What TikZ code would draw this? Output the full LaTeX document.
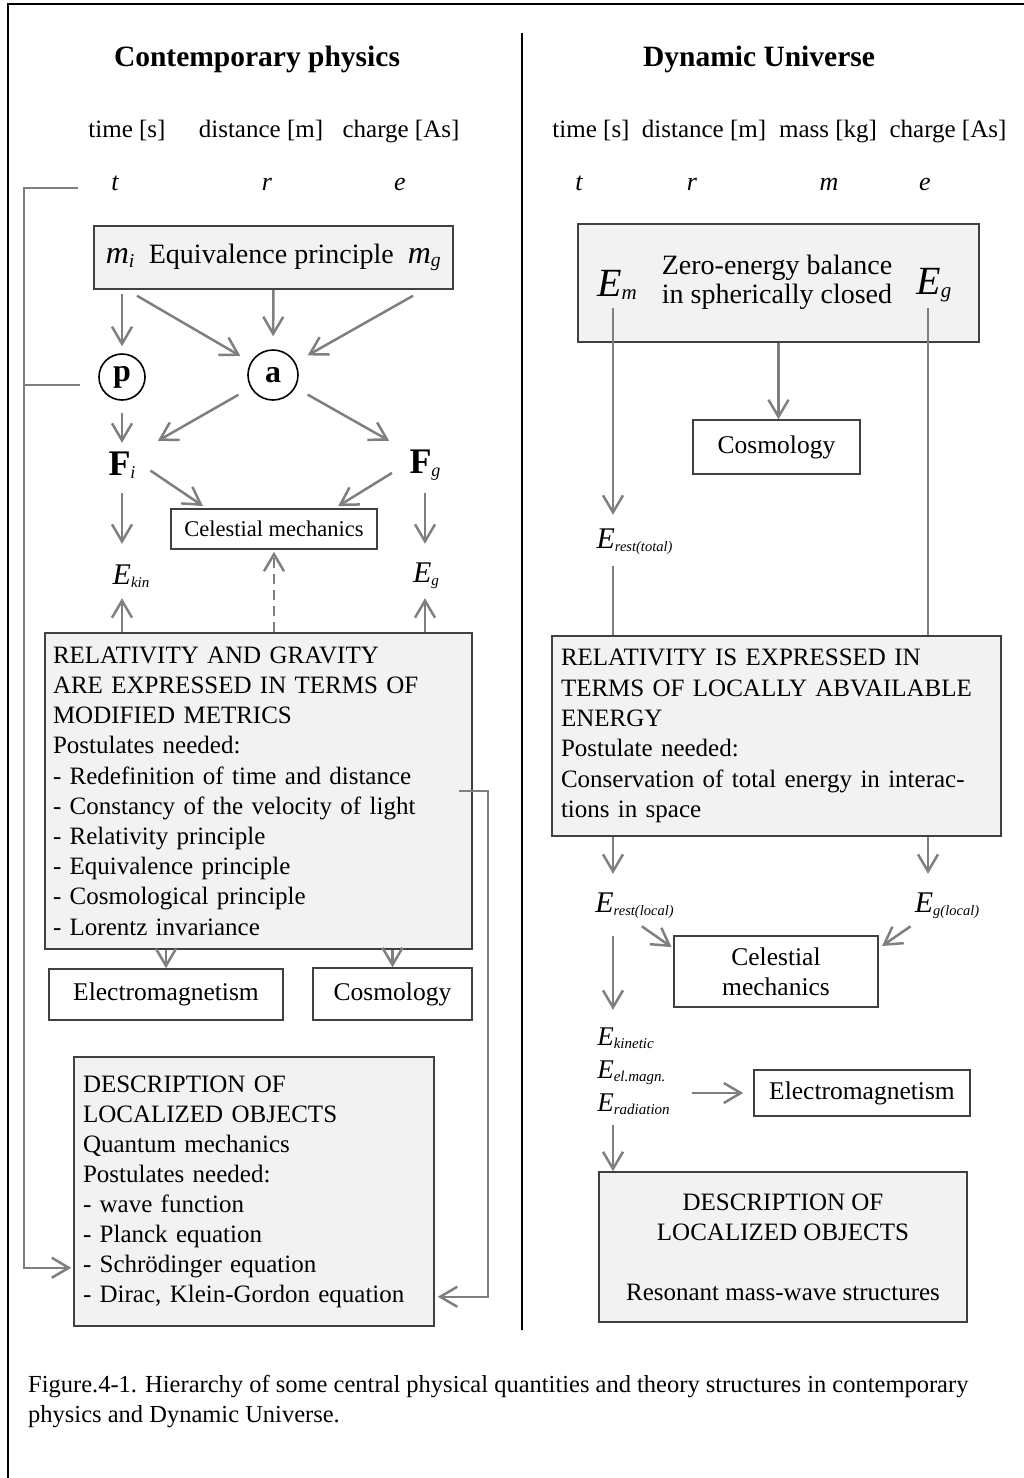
\documentclass[tikz,border=0pt]{standalone}
\usepackage{fontspec}
\setmainfont{Liberation Serif}
\usetikzlibrary{arrows.meta}
\definecolor{arrgray}{HTML}{7F7F7F}
\definecolor{boxfill}{HTML}{F2F2F2}
\definecolor{boxline}{HTML}{404040}
\newcommand{\fsz}[1]{\fontsize{#1}{#1}\selectfont}
\newcommand{\Esub}[3]{{\fsz{#1}\textit{E}}{\fsz{#2}\raisebox{-3pt}{\textit{#3}}}}
\begin{document}
\begin{tikzpicture}[
  x=1pt, y=-1pt,
  arr/.style={draw=arrgray, line width=2.5pt, -{Straight Barb[length=17pt,width=20pt]}},
  conn/.style={draw=arrgray, line width=2.5pt},
  greybox/.style={draw=boxline, fill=boxfill, line width=1.5pt, inner sep=0pt},
  whitebox/.style={draw=boxline, fill=white, line width=1.5pt, inner sep=0pt, font=\fsz{25.5}},
  lbl/.style={inner sep=0pt},
  head/.style={inner sep=0pt, anchor=base, font=\fsz{25}},
  var/.style={inner sep=0pt, anchor=base, font=\fsz{26}\itshape},
  circ/.style={circle, draw, line width=1.6pt, inner sep=0pt, font=\fsz{32}\bfseries},
]
\useasboundingbox (0,0) rectangle (1024,1478);
\draw[line width=1.5pt] (8,1478) -- (8,4) -- (1024,4);
\draw[line width=1.5pt] (522,33) -- (522,1330);

% Contemporary physics
\node[lbl, anchor=base, font=\fsz{29.5}\bfseries] (cptitle) at (257,66) {Contemporary physics};
\node[head] (ctime) at (127,137) {time [s]};
\node[head] (cdist) at (261,137) {distance [m]};
\node[head] (ccharge) at (401,137) {charge [As]};
\node[var] (ct) at (115,190) {t};
\node[var] (cr) at (267,190) {r};
\node[var] (ce) at (400,190) {e};

\node[greybox, minimum width=359pt, minimum height=63pt, font=\fsz{28}] (eqp) at (273.5,257.5)
  {{\fsz{32}\textit{m}}\textsubscript{\textit{i}}\ \ Equivalence principle\ \ {\fsz{32}\textit{m}}\textsubscript{\textit{g}}};
\node[circ, minimum size=46pt] (p) at (122,377) {p};
\node[circ, minimum size=50pt] (a) at (273,375) {a};
\node[lbl, minimum width=40pt, minimum height=30pt] (Fi) at (122,465) {{\fsz{36}\bfseries F}{\fsz{18}\raisebox{-3pt}{\textit{i}}}};
\node[lbl, minimum width=40pt, minimum height=30pt] (Fg) at (425,465) {{\fsz{36}\bfseries F}{\fsz{18}\raisebox{-3pt}{\textit{g}}}};
\node[whitebox, font=\fsz{22.5}, minimum width=206pt, minimum height=40pt] (celL) at (274,529) {Celestial mechanics};
\node[lbl, minimum width=46pt, minimum height=30pt] (Ekin) at (131,576) {\Esub{30}{15}{kin}};
\node[lbl, minimum width=30pt, minimum height=30pt] (Eg) at (426,576) {\Esub{30}{15}{g}};

\node[greybox, font=\fontsize{25}{30.2}\selectfont, text width=411pt, align=left, minimum width=427pt, minimum height=316pt] (rel) at (258.5,791)
  {RELATIVITY AND GRAVITY\\
   ARE EXPRESSED IN TERMS OF\\
   MODIFIED METRICS\\
   Postulates needed:\\
   - Redefinition of time and distance\\
   - Constancy of the velocity of light\\
   - Relativity principle\\
   - Equivalence principle\\
   - Cosmological principle\\
   - Lorentz invariance};
\node[whitebox, minimum width=234pt, minimum height=51pt] (emL) at (166,994.5) {Electromagnetism};
\node[whitebox, minimum width=159pt, minimum height=52pt] (cosL) at (392.5,994) {Cosmology};
\node[greybox, font=\fontsize{25}{30}\selectfont, text width=342pt, align=left, minimum width=360pt, minimum height=269pt] (qm) at (254,1191.5)
  {DESCRIPTION OF\\
   LOCALIZED OBJECTS\\
   Quantum mechanics\\
   Postulates needed:\\
   - wave function\\
   - Planck equation\\
   - Schrödinger equation\\
   - Dirac, Klein-Gordon equation};

\draw[arr, shorten <=4pt, shorten >=7pt] (eqp.south -| p.north) -- (p.north);
\draw[arr, shorten >=12pt] ([xshift=-136.5pt,yshift=-6pt]eqp.south) -- (a);
\draw[arr, shorten >=13pt] (eqp.south) -- (a.north);
\draw[arr, shorten >=14pt] ([xshift=139.5pt,yshift=-6pt]eqp.south) -- (a);
\draw[arr, shorten <=12pt, shorten >=7pt] (p.south) -- (p.south |- Fi.north);
\draw[arr, shorten <=14pt, shorten >=18pt] (a) -- (Fi.north east);
\draw[arr, shorten <=14pt, shorten >=18pt] (a) -- (Fg.north west);
\draw[arr, shorten <=10pt, shorten >=4pt] (Fi.east) -- ([xshift=36pt]celL.north west);
\draw[arr, shorten <=15pt, shorten >=4pt] (Fg.west) -- ([xshift=-43pt]celL.north east);
\draw[arr, shorten <=13pt, shorten >=17pt] (Fi.south) -- (Fi.south |- Ekin.north);
\draw[arr, shorten <=13pt, shorten >=17pt] (Fg.south) -- (Fg.south |- Eg.north);
\draw[arr, shorten >=7pt] (rel.north -| Fi.south) -- (Fi.south |- Ekin.south);
\draw[arr, shorten >=7pt] (rel.north -| Fg.south) -- (Fg.south |- Eg.south);
\draw[arr, dash pattern=on 10pt off 6pt, shorten >=2pt] (rel.north -| celL.south) -- (celL.south);
\draw[arr] (rel.south -| emL.north) -- (emL.north);
\draw[arr] (rel.south -| cosL.north) -- (cosL.north);

\coordinate (tend) at (78,188);
\coordinate (pend) at (80,385);
\coordinate (brk) at (24,188);
\coordinate (rgt) at (488,791);
\draw[arr, shorten >=2pt] (tend) -- (brk) |- ([yshift=59pt]qm.south west);
\draw[conn] (pend) -- (pend -| brk);
\draw[arr, shorten >=3pt] ([xshift=-14pt]rel.east) -- (rgt) |- ([yshift=30pt]qm.south east);

% Dynamic Universe
\node[lbl, anchor=base, font=\fsz{29.5}\bfseries] (dutitle) at (759,66) {Dynamic Universe};
\node[head] (dtime) at (591,137) {time [s]};
\node[head] (ddist) at (704,137) {distance [m]};
\node[head] (dmass) at (828,137) {mass [kg]};
\node[head] (dcharge) at (948,137) {charge [As]};
\node[var] (dt) at (579,190) {t};
\node[var] (dr) at (692,190) {r};
\node[var] (dm) at (829,190) {m};
\node[var] (de) at (925,190) {e};

\node[greybox, minimum width=401pt, minimum height=118pt] (zero) at (778.5,283) {};
\node[lbl, align=center, font=\fontsize{28}{29}\selectfont] (zerotxt) at (777,282.5) {Zero-energy balance\\in spherically closed};
\node[lbl, minimum width=44pt, minimum height=40pt] (Em) at (617,285) {\Esub{40}{21}{m}};
\node[lbl, minimum width=44pt, minimum height=40pt] (Eg2) at (934,285) {\Esub{40}{21}{g}};
\coordinate (colL) at (613,0);
\coordinate (colR) at (928,0);

\node[whitebox, minimum width=167pt, minimum height=54pt] (cosR) at (776.5,447) {Cosmology};
\node[lbl, minimum width=80pt, minimum height=30pt] (Erest) at (634.5,542) {\Esub{30}{14.5}{rest(total)}};
\node[greybox, font=\fontsize{25}{30.4}\selectfont, text width=431pt, align=left, minimum width=449pt, minimum height=200pt] (durel) at (776.5,736)
  {RELATIVITY IS EXPRESSED IN\\
   TERMS OF LOCALLY ABVAILABLE\\
   ENERGY\\
   Postulate needed:\\
   Conservation of total energy in interac-\\
   tions in space};
\node[lbl, minimum width=80pt, minimum height=30pt] (Erl) at (634.5,906) {\Esub{30}{14.5}{rest(local)}};
\node[lbl, minimum width=66pt, minimum height=30pt] (Egl) at (947,906) {\Esub{30}{14.5}{g(local)}};
\node[whitebox, align=center, font=\fontsize{25.5}{30}\selectfont, minimum width=204pt, minimum height=71pt] (celR) at (776,971.5) {Celestial\\mechanics};
\node[lbl, align=left, minimum width=80pt, minimum height=100pt, font=\fontsize{27}{33}\selectfont] (Elist) at (633.5,1071)
  {\Esub{27}{15}{kinetic}\\\Esub{27}{15}{el.magn.}\\\Esub{27}{15}{radiation}};
\node[whitebox, minimum width=216pt, minimum height=46pt] (emR) at (862,1093) {Electromagnetism};
\node[greybox, align=center, font=\fontsize{25}{30}\selectfont, minimum width=368pt, minimum height=150pt] (dloc) at (783,1247)
  {DESCRIPTION OF\\LOCALIZED OBJECTS\\[30pt]Resonant mass-wave structures};

\draw[arr, shorten <=3pt, shorten >=12pt] (Em.south -| colL) -- (Erest.north -| colL);
\draw[conn, shorten <=9pt] (Erest.south -| colL) -- (durel.north -| colL);
\draw[conn, shorten <=3pt] (Eg2.south -| colR) -- (durel.north -| colR);
\draw[arr] (zero.south) -- (zero.south |- cosR.north);
\draw[arr, shorten >=17pt] (durel.south -| colL) -- (Erl.north -| colL);
\draw[arr, shorten >=17pt] (durel.south -| colR) -- (Egl.north -| colR);
\draw[arr, shorten <=9pt, shorten >=2pt] (Erl.south) -- ([yshift=-13pt]celR.north west);
\draw[arr, shorten <=9pt, shorten >=4pt] ([xshift=-29pt]Egl.south) -- ([yshift=-13pt]celR.north east);
\draw[arr, shorten <=15pt, shorten >=11pt] (Erl.south -| colL) -- (Elist.north -| colL);
\draw[arr, shorten <=18pt, shorten >=10pt] (emR.west -| Elist.east) -- (emR.west);
\draw[arr, shorten <=4pt] (Elist.south -| colL) -- (dloc.north -| colL);

\node[lbl, anchor=west, align=left, font=\fontsize{24.5}{30}\selectfont] (caption) at (28,1402)
  {Figure.4-1. Hierarchy of some central physical quantities and theory structures in contemporary\\
   physics and Dynamic Universe.};
\end{tikzpicture}
\end{document}
